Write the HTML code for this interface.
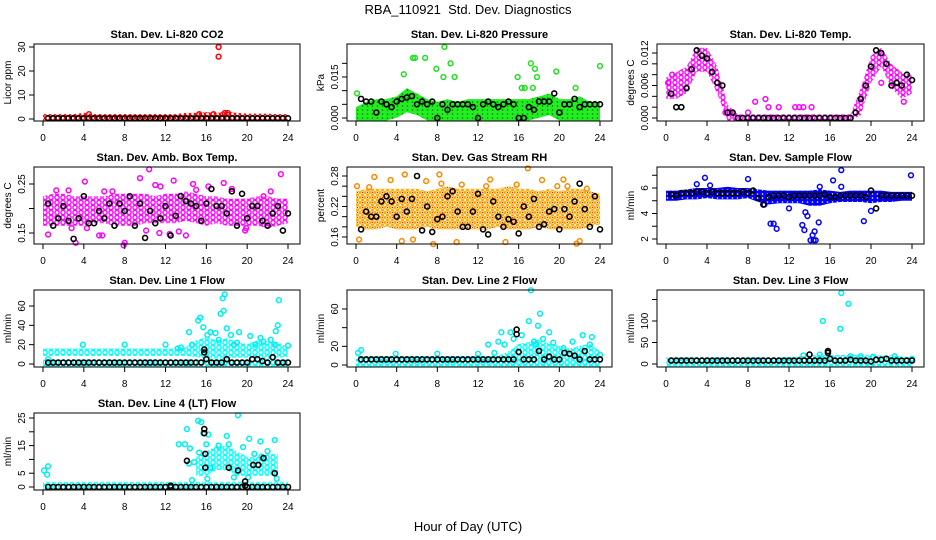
<!DOCTYPE html>
<html><head><meta charset="utf-8">
<style>
html,body{margin:0;padding:0;background:#fff;}
svg{display:block;font-family:"Liberation Sans",Arial,sans-serif;}
</style></head>
<body>
<svg id="chart" width="936" height="540" viewBox="0 0 936 540" xmlns="http://www.w3.org/2000/svg">
<defs>
<pattern id="pat-red" patternUnits="userSpaceOnUse" width="5" height="4"><circle cx="2.5" cy="2" r="2" fill="none" stroke="#ff0000" stroke-width="1.3"/></pattern>
<pattern id="pat-green" patternUnits="userSpaceOnUse" width="5" height="4"><rect width="5" height="4" fill="#22ee22"/><circle cx="2.5" cy="2" r="0.8" fill="#007700"/></pattern>
<pattern id="pat-magenta" patternUnits="userSpaceOnUse" width="6" height="5"><circle cx="3" cy="2.5" r="2.1" fill="none" stroke="#ff00ff" stroke-width="1.4"/></pattern>
<pattern id="pat-orange" patternUnits="userSpaceOnUse" width="5" height="5"><circle cx="2.5" cy="2.5" r="2" fill="none" stroke="#ffaa00" stroke-width="1.3"/><circle cx="2.5" cy="2.5" r="0.7" fill="#ff2200"/></pattern>
<pattern id="pat-blue" patternUnits="userSpaceOnUse" width="5" height="4"><rect width="5" height="4" fill="#0000ff"/><circle cx="2.5" cy="2" r="0.8" fill="#ffffff"/></pattern>
<pattern id="pat-cyan" patternUnits="userSpaceOnUse" width="6" height="5"><circle cx="3" cy="2.5" r="2.1" fill="none" stroke="#00ffff" stroke-width="1.4"/></pattern>
</defs>
<text x="468" y="14" font-size="13" text-anchor="middle" xml:space="preserve">RBA_110921  Std. Dev. Diagnostics</text>
<text x="468" y="531" font-size="13" text-anchor="middle">Hour of Day (UTC)</text>
</svg>
<script>
const HOURS = [0,1,2,3,4,5,6,7,8,9,10,11,12,13,14,15,16,17,18,19,20,21,22,23,24];
const BLACK_HOURS = [0.5,1,1.5,2,2.5,3,3.5,4,4.5,5,5.5,6,6.5,7,7.5,8,8.5,9,9.5,10,10.5,11,11.5,12,12.5,13,13.5,14,14.5,15,15.5,16,16.5,17,17.5,18,18.5,19,19.5,20,20.5,21,21.5,22,22.5,23,23.5,24];
const X_TICKS = [0,4,8,12,16,20,24];

// CO2
const co2Lo = [0,0,0,0,0,0,0,0,0,0,0,0,0,0,0,0,0,0,0,0,0,0,0,0,0];
const co2Hi = [1,1,1,1,1.5,1,1,1,1,1,1,1,1,1,1.5,1.5,1.8,1.5,2,1.5,1.2,1.2,1.2,1,1];
const co2OutX = [17.2,17.2,4.5,15.3,16.7,17.8,18.1];
const co2OutY = [30,26,2,2,2,2.5,2.5];
const co2Black = [0.3,0.3,0.3,0.3,0.3,0.3,0.3,0.3,0.3,0.3,0.3,0.3,0.3,0.3,0.3,0.3,0.3,0.3,0.3,0.3,0.3,0.3,0.3,0.3,0.3,0.3,0.3,0.3,0.3,0.3,0.3,0.3,0.3,0.3,0.3,0.3,0.3,0.3,0.3,0.3,0.3,0.3,0.3,0.3,0.3,0.3,0.3,0.3];

// Pressure
const presLo = [0,0,0,0,0.001,0.003,0.002,0,0,0,0,0,0,0,0,0,0,0,0.001,0.002,0,0,0,0,0];
const presHi = [0.003,0.005,0.006,0.006,0.007,0.010,0.008,0.006,0.005,0.006,0.005,0.006,0.006,0.006,0.006,0.006,0.006,0.006,0.007,0.008,0.006,0.006,0.007,0.005,0.005];
const presOutX = [0.1,4.7,5.6,5.8,6.8,7.9,8.6,8.7,9.3,9.7,15.9,16.3,16.6,17.2,17.4,17.6,17.8,19.7,24,21.6];
const presOutY = [0.009,0.016,0.022,0.022,0.022,0.018,0.015,0.026,0.020,0.015,0.015,0.011,0.011,0.020,0.011,0.018,0.015,0.017,0.019,0.011];
const presBlack = [0.007,0.006,0.006,0.002,0.006,0.005,0.004,0.006,0.007,0.0075,0.008,0.005,0.006,0.005,0.006,0,0.005,0.003,0.005,0.005,0.005,0.005,0.004,0,0.005,0.006,0.005,0.004,0.005,0.006,0.005,0,0,0.004,0.003,0.006,0.006,0.006,0.009,0.002,0.005,0.005,0.007,0.004,0.005,0.005,0.005,0.005];

// Li-820 Temp
const tempLo = [0.004,0.004,0.005,0.009,0.009,0.005,0,0,0,0,0,0,0,0,0,0,0,0,0,0.001,0.007,0.010,0.006,0.004,0.005];
const tempHi = [0.007,0.008,0.009,0.0125,0.0125,0.009,0.002,0.0002,0.0002,0.0002,0.0002,0.0002,0.0002,0.0002,0.0002,0.0002,0.0002,0.0002,0.0002,0.005,0.011,0.0125,0.0095,0.008,0.0075];
const tempOutX = [0.2,0.6,8,8.7,9.7,10,11,12.6,13,13.4,14.2,5.8,6.2,21,23.2];
const tempOutY = [0.0065,0.008,0.001,0.003,0.0035,0.002,0.002,0.002,0.002,0.002,0.002,0.001,0.001,0.0065,0.003];
const tempBlack = [0.0045,0.002,0.002,0.0055,0.009,0.0125,0.0115,0.011,0.0085,0.0065,0.006,0.001,0.001,0,0,0,0,0,0,0,0,0,0,0,0,0,0,0,0,0,0,0,0,0,0,0,0.001,0.0035,0.006,0.0095,0.0125,0.012,0.010,0.006,0.0065,0.006,0.008,0.007];

// Amb box temp
const ambLo = [0.17,0.17,0.17,0.17,0.17,0.175,0.175,0.17,0.17,0.17,0.175,0.175,0.175,0.175,0.18,0.175,0.17,0.175,0.17,0.17,0.17,0.17,0.165,0.17,0.175];
const ambHi = [0.22,0.225,0.225,0.22,0.22,0.22,0.22,0.225,0.225,0.225,0.225,0.22,0.225,0.225,0.23,0.225,0.22,0.22,0.215,0.215,0.215,0.22,0.22,0.215,0.215];
const ambOutX = [0.5,1.3,2.5,2.8,4.1,4.3,5.5,5.8,6,7.9,8,9.5,10.1,10.4,11,11.5,12.4,12.8,13.3,14,14.7,15,16.2,17.7,18.5,19.8,19.9,23.3,22.3,21.6,11.4,3.2,6.8];
const ambOutY = [0.147,0.237,0.237,0.16,0.255,0.16,0.145,0.145,0.235,0.125,0.13,0.262,0.155,0.28,0.248,0.245,0.148,0.257,0.153,0.145,0.25,0.238,0.245,0.252,0.24,0.155,0.16,0.27,0.235,0.225,0.15,0.13,0.235];
const ambBlack = [0.21,0.165,0.18,0.205,0.175,0.138,0.18,0.225,0.17,0.17,0.195,0.18,0.21,0.165,0.21,0.195,0.225,0.165,0.21,0.14,0.195,0.17,0.18,0.205,0.145,0.185,0.225,0.215,0.21,0.205,0.175,0.21,0.24,0.205,0.205,0.19,0.235,0.165,0.23,0.18,0.205,0.205,0.175,0.165,0.19,0.205,0.155,0.19];

// Gas stream RH
const rhLo = [0.185,0.18,0.18,0.185,0.18,0.18,0.18,0.185,0.18,0.18,0.18,0.18,0.18,0.18,0.185,0.18,0.18,0.18,0.185,0.18,0.18,0.18,0.18,0.185,0.19];
const rhHi = [0.245,0.25,0.25,0.25,0.25,0.25,0.25,0.245,0.25,0.255,0.25,0.25,0.25,0.25,0.25,0.255,0.25,0.25,0.245,0.25,0.245,0.25,0.25,0.245,0.24];
const rhOutX = [0.1,0.3,1.3,1.8,3.4,4.8,6.9,7.6,8.2,8.4,9.9,10.4,13.2,15.8,16.9,18.3,19.8,20.4,20.8,22.7,21.7,22,4.5,5.6,12.8,14.7];
const rhOutY = [0.26,0.155,0.258,0.278,0.272,0.283,0.27,0.146,0.283,0.265,0.15,0.263,0.273,0.263,0.295,0.272,0.26,0.273,0.26,0.255,0.147,0.152,0.152,0.155,0.26,0.15];
const rhBlack = [0.175,0.21,0.2,0.2,0.23,0.24,0.23,0.2,0.235,0.21,0.235,0.28,0.173,0.22,0.17,0.195,0.2,0.24,0.25,0.21,0.18,0.18,0.21,0.245,0.175,0.165,0.23,0.2,0.18,0.195,0.19,0.167,0.22,0.2,0.235,0.18,0.185,0.21,0.215,0.175,0.215,0.2,0.23,0.265,0.215,0.18,0.24,0.175];

// Sample flow
const sampLo = [5.2,5.2,5.3,5.3,5.4,5.3,5.3,5.3,5.4,5.1,4.9,5,5,5,4.8,4.8,5,5.1,5.1,5.1,5,5.1,5.1,5.2,5.2];
const sampHi = [5.6,5.6,5.7,5.8,5.8,5.8,5.9,5.8,5.8,5.7,5.6,5.6,5.6,5.6,5.6,5.7,5.6,5.5,5.6,5.6,5.6,5.6,5.5,5.5,5.5];
const sampOutX = [3.8,3,4.3,8,10.2,10.5,10.8,12,13.3,13.5,13.8,14.1,14.3,14.4,14.5,14.6,14.9,15,16.3,17.1,17.1,19.3,20,23.9,13.6,9.6];
const sampOutY = [6.8,6.3,6.2,6.7,3.2,3.2,2.8,4.4,3.1,2.7,3.8,1.9,2.3,1.9,2.6,1.9,3.3,6.1,6.6,7.4,6.1,3.4,4.2,7,4.1,4.7];
const sampBlack = [5.5,5.4,5.6,5.6,5.6,5.7,5.7,5.6,5.7,5.6,5.6,5.6,5.6,5.6,5.7,5.6,5.8,5.2,4.7,5.3,5.4,5.4,5.4,5.3,5.4,5.4,5.4,5.4,5.4,5.4,5.5,5.3,5.3,5.4,5.4,5.4,5.4,5.4,5.3,5.8,4.4,5.4,5.4,5.4,5.4,5.4,5.4,5.4];

// Line 1
const l1Lo = [11,11,11,11,11,11,11,11,11,11,11,11,11,11,11,10,8,8,8,9,9,8,8,9,10];
const l1Hi = [13.5,13.5,13.5,13.5,13.5,13.5,13.5,13.5,13.5,13.5,13.5,13.5,13.5,13.5,15,22,25,22,24,20,18,22,20,20,15];
const l1BaseHi = [2,2,2,2,2,2,2,2,2,2,2,2,2,2,2,2,2,2,2,2,2,2,2,2,2];
const l1OutX = [0.5,3.9,8,12,13.2,13.5,14.3,14.6,15.2,15.4,15.7,16.1,16.4,16.9,17.2,17.4,17.6,17.8,17.7,18,18.4,18.7,19,19.2,20.3,20.8,21.3,21.6,22.3,22.7,22.8,23,23.1,24];
const l1OutY = [5,20,20,20,16,17,33,20,45,48,38,30,33,32,25,52,68,72,55,37,30,20,22,33,29,20,27,23,25,20,34,40,66,19];
const l1Black = [1.5,1.5,1.5,1.5,1.5,1.5,1.5,1.5,1.5,1.5,1.5,1.5,1.5,1.5,1.5,1.5,1.5,1.5,1.5,1.5,1.5,1.5,1.5,1.5,1.5,1.5,1.5,1.5,1.5,1.5,1.5,5,1.5,1.5,1.5,5,1.5,1.5,1.5,1.5,5,5,3,1.5,7,1.5,1.5,1.5];
const l1BlackExX = [15.8,15.8];
const l1BlackExY = [15,12];

// Line 2
const l2Lo = [4,4,4,4,4,4,4,4,4,4,4,4,4,4,4,3,3,3,3,3,3,3,3,3,4];
const l2Hi = [7,7,7,7,7,7,7,7,7,7,7,7,7,7,7,12,20,22,25,20,18,15,18,20,12];
const l2BaseHi = [2,2,2,2,2,2,2,2,2,2,2,2,2,2,2,2,2,2,2,2,2,2,2,2,2];
const l2OutX = [0.2,0.5,3.9,8,12,13,13.6,14,14.3,14.6,15.2,15.5,16.3,17,17.2,17.5,17.7,17.9,18.1,18.4,19,19.4,20.4,21.3,22.3,23.2,23,24];
const l2OutY = [13,16,12,12,12,22,13,25,35,22,35,28,32,47,80,25,22,42,55,28,35,24,18,25,32,30,22,11];
const l2Black = [6,6,6,6,6,6,6,6,6,6,6,6,6,6,6,6,6,6,6,6,6,6,6,6,6,6,6,6,6,6,6,14,6,6,6,15,6,9,6,6,13,12,10,6,15,6,6,6];
const l2BlackExX = [15.8,15.8];
const l2BlackExY = [38,33];

// Line 3
const l3Lo = [0,0,0,0,0,0,0,0,0,0,0,0,0,0,0,0,0,0,0,0,0,0,0,0,0];
const l3Hi = [10,10,10,10,10,10,10,10,10,10,10,10,10,12,15,15,15,15,15,15,14,14,14,12,10];
const l3OutX = [15.3,17,17.1,17.8,13.4,15,18,19,20.2,22.3,24];
const l3OutY = [100,82,165,140,20,22,18,18,17,18,12];
const l3Black = [8,8,8,8,8,8,8,8,8,8,8,8,8,8,8,8,8,8,8,8,8,8,8,8,8,8,8,8,8,8,8,12,8,8,8,10,8,8,8,6,10,10,12,8,8,8,8,8];
const l3BlackExX = [14,15.8,15.8];
const l3BlackExY = [22,30,26];

// Line 4
const l4Lo = [0,0,0,0,0,0,0,0,0,0,0,0,0,0,0,5,5,7,7,5,5,5,5,5,0];
const l4Hi = [0,0,0,0,0,0,0,0,0,0,0,0,0,0,0,10,12,14,14,12,10,10,11,11,0];
const l4BaseHi = [1,1,1,1,1,1,1,1,1,1,1,1,1,1,1,1,1,1,1,1,1,1,1,1,1];
const l4OutX = [0.1,0.4,0.5,13.3,13.9,14.1,14.4,14.6,14.8,15.2,15.5,15.7,16,16.2,16.4,17.2,18,18.2,18.7,19.1,19.6,20.2,20.7,21.3,22,22.7,22.9,21.4,20.1,14.3,15.3,16.1];
const l4OutY = [6,4.5,7.5,15.5,15.5,21,14,2.5,9,24,23.5,19.5,15.5,19,7,15,18.5,15.5,3.5,26,14.5,17.5,12,16.5,13,17,3,11,3.5,8.5,12.5,3];
const l4Black = [0,0,0,0,0,0,0,0,0,0,0,0,0,0,0,0,0,0,0,0,0,0,0,0,0,0,0,0,0,0,0,0,0,0,0,0,0,0,0,0,0,0,0,0,0,0,0,0];
const l4BlackExX = [14.1,15.8,15.8,15.9,15.9,18.2,19.1,19.8,19.8,20.6,21.1,21.6,22.7,12.5];
const l4BlackExY = [9.5,21,19.5,12,7,7,6,2,0.5,8,8,10.5,5,0.5];

const COLS = [[34,300],[347,612],[657,924]];
const ROWS = [[44,121],[167,244],[290,367],[413,490]];

const PANELS = [
 {name:'co2',title:'Stan. Dev. Li-820 CO2',ylab:'Licor ppm',c:0,r:0,cal:[0,119,30,47],col:'#ff0000',pat:'pat-red',
  ticks:[0,10,20,30],labels:['0','10','20','30'],lo:co2Lo,hi:co2Hi,ox:co2OutX,oy:co2OutY,black:co2Black},
 {name:'pressure',title:'Stan. Dev. Li-820 Pressure',ylab:'kPa',c:1,r:0,cal:[0,118,0.015,77],col:'#22dd22',pat:'pat-green',
  ticks:[0,0.005,0.01,0.015,0.02],labels:['0.000','','','0.015',''],lo:presLo,hi:presHi,ox:presOutX,oy:presOutY,black:presBlack},
 {name:'li820-temp',title:'Stan. Dev. Li-820 Temp.',ylab:'degrees C',c:2,r:0,cal:[0,118,0.012,53],col:'#ff00ff',pat:'pat-magenta',
  ticks:[0,0.002,0.004,0.006,0.008,0.01,0.012],labels:['0.000','','','0.006','','','0.012'],lo:tempLo,hi:tempHi,ox:tempOutX,oy:tempOutY,black:tempBlack},
 {name:'amb-box-temp',title:'Stan. Dev. Amb. Box Temp.',ylab:'degrees C',c:0,r:1,cal:[0.15,233,0.25,184],col:'#ff00ff',pat:'pat-magenta',
  ticks:[0.15,0.2,0.25],labels:['0.15','','0.25'],lo:ambLo,hi:ambHi,ox:ambOutX,oy:ambOutY,black:ambBlack},
 {name:'gas-stream-rh',title:'Stan. Dev. Gas Stream RH',ylab:'percent',c:1,r:1,cal:[0.16,237,0.28,176],col:'#ff8800',pat:'pat-orange',
  ticks:[0.16,0.18,0.2,0.22,0.24,0.26,0.28],labels:['0.16','','','0.22','','','0.28'],lo:rhLo,hi:rhHi,ox:rhOutX,oy:rhOutY,black:rhBlack},
 {name:'sample-flow',title:'Stan. Dev. Sample Flow',ylab:'ml/min',c:2,r:1,cal:[2,239,6,188],col:'#0000ff',pat:'pat-blue',
  ticks:[2,3,4,5,6,7],labels:['2','','4','','6',''],lo:sampLo,hi:sampHi,ox:sampOutX,oy:sampOutY,black:sampBlack},
 {name:'line1-flow',title:'Stan. Dev. Line 1 Flow',ylab:'ml/min',c:0,r:2,cal:[0,364,60,306],col:'#00eeee',pat:'pat-cyan',
  ticks:[0,20,40,60],labels:['0','20','40','60'],lo:l1Lo,hi:l1Hi,baseHi:l1BaseHi,ox:l1OutX,oy:l1OutY,black:l1Black,bx:l1BlackExX,by:l1BlackExY},
 {name:'line2-flow',title:'Stan. Dev. Line 2 Flow',ylab:'ml/min',c:1,r:2,cal:[0,365,60,309],col:'#00eeee',pat:'pat-cyan',
  ticks:[0,20,40,60],labels:['0','20','','60'],lo:l2Lo,hi:l2Hi,baseHi:l2BaseHi,ox:l2OutX,oy:l2OutY,black:l2Black,bx:l2BlackExX,by:l2BlackExY},
 {name:'line3-flow',title:'Stan. Dev. Line 3 Flow',ylab:'ml/min',c:2,r:2,cal:[0,364,100,321],col:'#00eeee',pat:'pat-cyan',
  ticks:[0,50,100,150],labels:['0','50','100',''],lo:l3Lo,hi:l3Hi,ox:l3OutX,oy:l3OutY,black:l3Black,bx:l3BlackExX,by:l3BlackExY},
 {name:'line4-flow',title:'Stan. Dev. Line 4 (LT) Flow',ylab:'ml/min',c:0,r:3,cal:[0,487,25,418],col:'#00eeee',pat:'pat-cyan',
  ticks:[0,5,10,15,20,25],labels:['0','5','','15','','25'],lo:l4Lo,hi:l4Hi,baseHi:l4BaseHi,ox:l4OutX,oy:l4OutY,black:l4Black,bx:l4BlackExX,by:l4BlackExY}
];

const NS='http://www.w3.org/2000/svg';
const svg=document.getElementById('chart');
function mk(tag,attrs,parent){const e=document.createElementNS(NS,tag);for(const k in attrs)e.setAttribute(k,attrs[k]);(parent||svg).appendChild(e);return e;}

PANELS.forEach(p=>{
  const [L,R]=COLS[p.c],[T,B]=ROWS[p.r];
  const x0=L+9,x1=R-12;
  const xs=h=>x0+(x1-x0)*h/24;
  const ys=v=>p.cal[1]+(v-p.cal[0])*(p.cal[3]-p.cal[1])/(p.cal[2]-p.cal[0]);
  const g=mk('g',{});
  
  

  const band=(lo,hi,nm)=>{
    let seg=[];
    const flush=()=>{ if(seg.length){
      const up=seg.map(i=>xs(HOURS[i])+','+(ys(hi[i])-2.5));
      const dn=seg.slice().reverse().map(i=>xs(HOURS[i])+','+(ys(lo[i])+2.5));
      const pg=mk('polygon',{points:up.concat(dn).join(' '),fill:'url(#'+p.pat+')'},g);
      
      
      seg=[];}};
    HOURS.forEach((h,i)=>{ if(hi[i]>lo[i]) seg.push(i); else flush(); });
    flush();
  };
  if(p.baseHi) band(HOURS.map(()=>0),p.baseHi,p.name+'-base-band');
  band(p.lo,p.hi,p.name+'-dense-band');

  p.ox.forEach((h,i)=>{
    const c=mk('circle',{cx:xs(h),cy:ys(p.oy[i]),r:2.4,fill:'none',stroke:p.col,'stroke-width':1.5},g);
    
    
  });
  p.black.forEach((v,i)=>{
    const c=mk('circle',{cx:xs(BLACK_HOURS[i]),cy:ys(v),r:2.5,fill:'none',stroke:'#000','stroke-width':1.6},g);
    
    
  });
  if(p.bx) p.bx.forEach((h,i)=>{
    const c=mk('circle',{cx:xs(h),cy:ys(p.by[i]),r:2.5,fill:'none',stroke:'#000','stroke-width':1.6},g);
    
    
  });

  const box=mk('rect',{x:L,y:T,width:R-L,height:B-T,fill:'none',stroke:'#000','stroke-width':1},g);
  
  

  const t=mk('text',{x:(L+R)/2,y:T-6,'font-size':11,'font-weight':'bold','text-anchor':'middle'},g);
  t.textContent=p.title;
  
  

  const yl=mk('text',{x:0,y:0,'font-size':10,'text-anchor':'middle',transform:`translate(${L-23},${(T+B)/2}) rotate(-90)`},g);
  yl.textContent=p.ylab;
  
  

  mk('line',{x1:xs(0),y1:B,x2:xs(24),y2:B,stroke:'#000'},g);
  X_TICKS.forEach(h=>{
    mk('line',{x1:xs(h),y1:B,x2:xs(h),y2:B+5,stroke:'#000'},g);
    const tl=mk('text',{x:xs(h),y:B+20,'font-size':10,'text-anchor':'middle'},g);
    tl.textContent=String(h);
    
    
  });
  mk('line',{x1:L,y1:ys(p.ticks[0]),x2:L,y2:ys(p.ticks[p.ticks.length-1]),stroke:'#000'},g);
  p.ticks.forEach((v,i)=>{
    const y=ys(v);
    mk('line',{x1:L-5,y1:y,x2:L,y2:y,stroke:'#000'},g);
    if(p.labels[i]){
      const tl=mk('text',{x:0,y:0,'font-size':10,'text-anchor':'middle',transform:`translate(${L-9},${y}) rotate(-90)`},g);
      tl.textContent=p.labels[i];
      
      
    }
  });
});
</script>
</body></html>
